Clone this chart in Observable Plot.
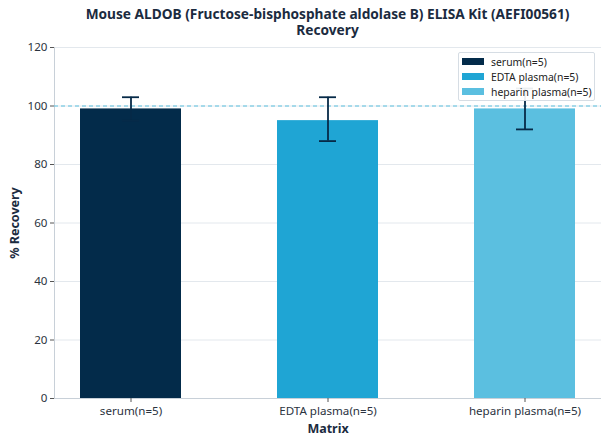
<!DOCTYPE html>
<html>
<head>
<meta charset="utf-8">
<script src="https://cdn.jsdelivr.net/npm/d3@7"></script>
<script src="https://cdn.jsdelivr.net/npm/@observablehq/plot@0.6"></script>
<style>
  html, body { margin: 0; padding: 0; background: #fff; }
  body { width: 608px; height: 444px; overflow: hidden; font-family: "Noto Sans", sans-serif; }
  #wrap { position: relative; width: 608px; height: 444px; }
  #title { box-sizing: border-box; height: 40px; padding: 6px 7px 0 54px; text-align: center;
           font-weight: bold; font-size: 13.7px; line-height: 16px; color: #1b2b40; }
  #legend { position: absolute; left: 458px; top: 52px; width: 137px; height: 49px; background: rgba(255,255,255,0.92);
            border: 1px solid #d6dde4; border-radius: 2px; box-sizing: border-box; font-size: 10.4px; color: #222; }
  .row { position: absolute; left: 3px; height: 14px; display: flex; align-items: center; }
  .sw { width: 22px; height: 7px; margin-right: 7px; }
  svg [aria-label="y-axis label"] text, svg [aria-label="x-axis label"] text { font-weight: bold; font-size: 12.5px; fill: #1b2b40; }
</style>
</head>
<body>
<div id="wrap">
  <div id="title">Mouse ALDOB (Fructose-bisphosphate aldolase B) ELISA Kit (AEFI00561)<br>Recovery</div>
  <div id="chart"></div>
  <div id="legend"></div>
</div>
<script>
const categories = ["serum(n=5)", "EDTA plasma(n=5)", "heparin plasma(n=5)"];
const values = [99, 95, 99];
const errLow = [95, 88, 92];
const errHigh = [103, 103, 106];
const colors = ["#032b4a", "#1fa5d4", "#5bbfe0"];
const yTicks = [0, 20, 40, 60, 80, 100, 120];
const refLine = [100];

const data = categories.map((c, i) => ({cat: c, value: values[i], lo: errLow[i], hi: errHigh[i]}));

const chart = Plot.plot({
  width: 608,
  height: 404,
  marginTop: 7,
  marginBottom: 46,
  marginLeft: 54,
  marginRight: 7,
  style: {fontFamily: "Noto Sans", fontSize: "11.6px", color: "#2b3340", background: "white"},
  x: {domain: categories, paddingInner: 0.486, paddingOuter: 0.126},
  y: {domain: [0, 120]},
  color: {domain: categories, range: colors},
  marks: [
    Plot.gridY(yTicks, {stroke: "#e3e8ed", strokeOpacity: 1, strokeWidth: 1}),
    Plot.frame({anchor: "left", stroke: "#c8d0d8"}),
    Plot.ruleY([0], {stroke: "#c8d0d8"}),
    Plot.axisY(yTicks, {tickSize: 4, tickPadding: 3, label: "% Recovery", labelAnchor: "center", labelOffset: 44, labelArrow: "none", stroke: "#555"}),
    Plot.axisX({tickSize: 4, tickPadding: 4, label: "Matrix", labelAnchor: "center", labelOffset: 34, labelArrow: "none", stroke: "#555"}),
    Plot.barY(data, {x: "cat", y: "value", fill: "cat"}),
    Plot.ruleY(refLine, {stroke: "#5bc0de", strokeDasharray: "4,3", strokeWidth: 1}),
    Plot.ruleX(data, {x: "cat", y1: "lo", y2: "hi", stroke: "#062a48", strokeWidth: 1.8}),
    Plot.tickY(data, {x: "cat", y: "lo", stroke: "#062a48", strokeWidth: 1.8, inset: 42}),
    Plot.tickY(data, {x: "cat", y: "hi", stroke: "#062a48", strokeWidth: 1.8, inset: 42})
  ]
});
document.getElementById("chart").appendChild(chart);

const legend = document.getElementById("legend");
categories.forEach((c, i) => {
  const row = document.createElement("div");
  row.className = "row";
  row.style.top = (1.5 + i * 15) + "px";
  row.innerHTML = `<span class="sw" style="background:${colors[i]}"></span><span>${c}</span>`;
  legend.appendChild(row);
});
</script>
</body>
</html>
